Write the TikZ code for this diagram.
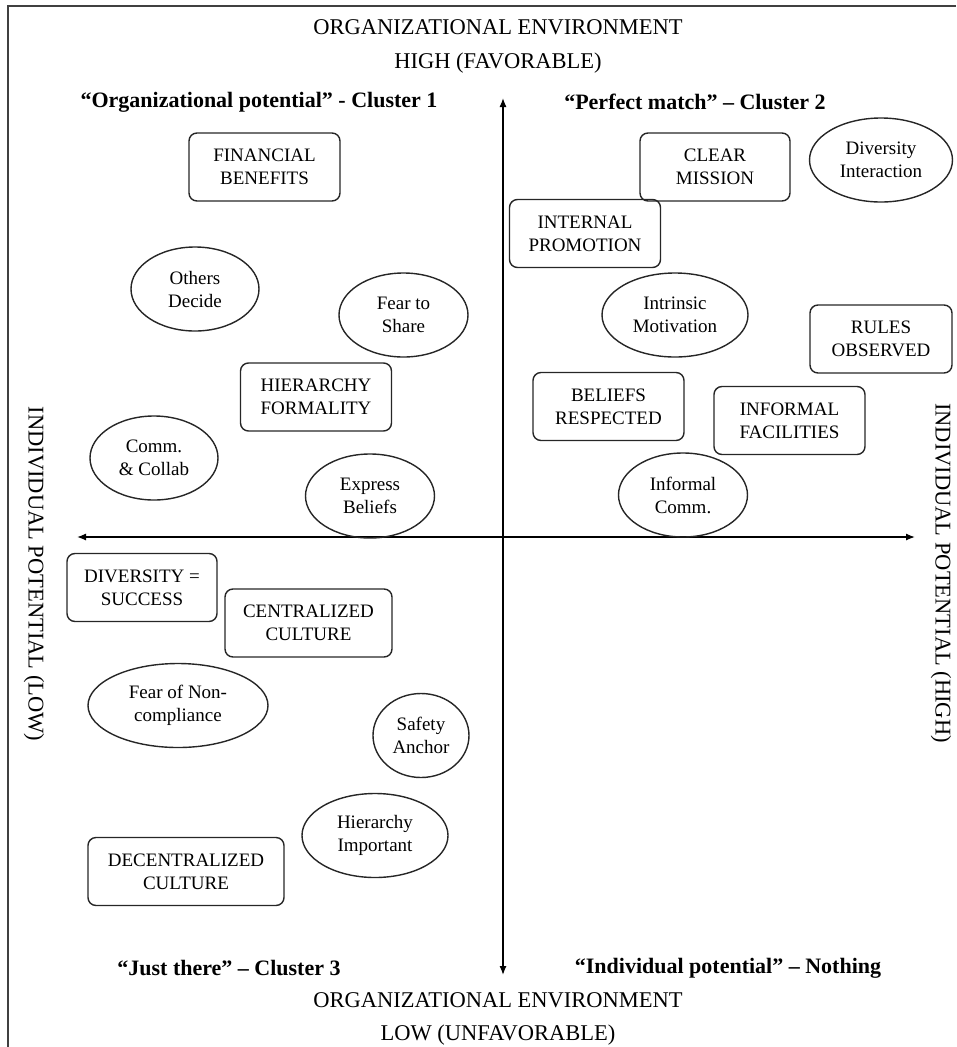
\documentclass[tikz,border=0pt]{standalone}
\usepackage{fontspec}
\setmainfont{Liberation Serif}
\usetikzlibrary{shapes.geometric,arrows.meta}
\begin{document}
\begin{tikzpicture}[x=1pt,y=-1pt,
  frame/.style={line width=1.6pt, draw=black!75},
  axis/.style={line width=1.3pt, {Latex[length=9pt,width=7pt]}-{Latex[length=9pt,width=7pt]}},
  item/.style={draw=black!85, line width=1.4pt, align=center, inner sep=0pt,
    font=\fontsize{19}{23}\selectfont},
  tag/.style={item, rectangle, rounded corners=8pt, minimum width=#1, minimum height=68pt},
  tag/.default=151pt,
  oval/.style={item, ellipse, minimum width=#1, minimum height=84pt},
  oval/.default=129pt,
  heading/.style={font=\fontsize{22.5}{26}\selectfont, inner sep=0pt},
  cluster/.style={font=\bfseries\fontsize{22}{26}\selectfont, inner sep=0pt}
]
\useasboundingbox (0,0) rectangle (956,1047);

% outer frame (open at right and bottom)
\coordinate (fr) at (956,6);
\coordinate (fc) at (8,6);
\coordinate (fb) at (8,1047);
\draw[frame] (fr) -- (fc) -- (fb);

% axis titles
\node[heading] (envtop) at (498,27) {ORGANIZATIONAL ENVIRONMENT};
\node[heading] (high) at (498,63) {HIGH (FAVORABLE)};
\node[heading] (envbot) at (498,1000) {ORGANIZATIONAL ENVIRONMENT};
\node[heading] (low) at (498,1035) {LOW (UNFAVORABLE)};
\node[heading, rotate=-90] (ilow) at (34,574) {INDIVIDUAL POTENTIAL (LOW)};
\node[heading, rotate=-90] (ihigh) at (941,573) {INDIVIDUAL POTENTIAL (HIGH)};

% quadrant labels
\node[cluster] (c1) at (259,102) {“Organizational potential” - Cluster 1};
\node[cluster] (c2) at (695,102) {“Perfect match” – Cluster 2};
\node[cluster] (c3) at (229,968) {“Just there” – Cluster 3};
\node[cluster] (c4) at (728,968) {“Individual potential” – Nothing};

% axes
\coordinate (top) at (503,98);
\coordinate (bot) at (503,975);
\coordinate (lft) at (77,537);
\coordinate (rgt) at (915,537);
\draw[axis] (bot) -- (top);
\draw[axis] (lft) -- (rgt);

% cluster 1
\node[tag] (fin) at (264.5,167) {FINANCIAL\\BENEFITS};
\node[oval=128pt] (others) at (195,289) {Others\\Decide};
\node[oval] (fear) at (403.5,315) {Fear to\\Share};
\node[tag] (hier) at (316,397) {HIERARCHY\\FORMALITY};
\node[oval=128pt] (comm) at (154,458) {Comm.\\\& Collab};
\node[oval] (express) at (370,496) {Express\\Beliefs};

% cluster 2
\node[tag=150pt] (mission) at (715,167) {CLEAR\\MISSION};
\node[oval=143pt] (divint) at (881,160) {Diversity\\Interaction};
\node[tag] (promo) at (585,233.5) {INTERNAL\\PROMOTION};
\node[oval=146pt] (intr) at (675,315) {Intrinsic\\Motivation};
\node[tag=142pt] (rules) at (881,339) {RULES\\OBSERVED};
\node[tag] (beliefs) at (608.5,406.5) {BELIEFS\\RESPECTED};
\node[tag] (facil) at (789.5,420.5) {INFORMAL\\FACILITIES};
\node[oval] (icomm) at (683,495) {Informal\\Comm.};

% cluster 3
\node[tag=150pt] (divsucc) at (142,587.5) {DIVERSITY =\\SUCCESS};
\node[tag=167pt] (central) at (308.5,623) {CENTRALIZED\\CULTURE};
\node[oval=180pt] (nonc) at (178,705.5) {Fear of Non-\\compliance};
\node[oval=96pt] (safety) at (421,735.5) {Safety\\Anchor};
\node[oval=146pt] (himp) at (375,835.5) {Hierarchy\\Important};
\node[tag=196pt] (decent) at (186,871.5) {DECENTRALIZED\\CULTURE};
\end{tikzpicture}
\end{document}
